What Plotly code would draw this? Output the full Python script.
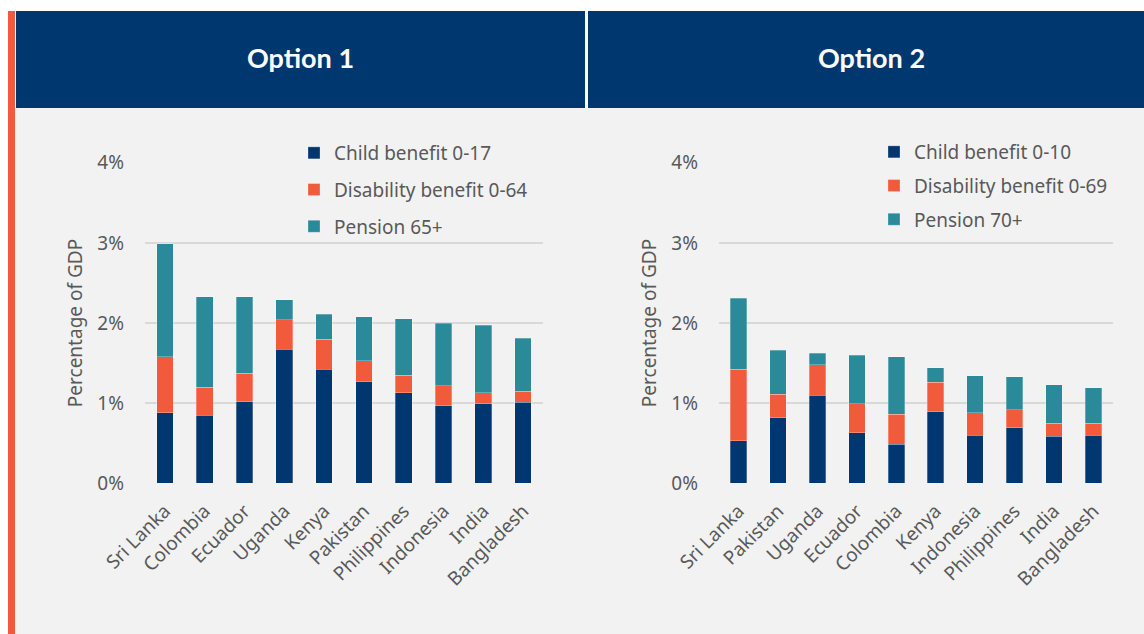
import plotly.graph_objects as go

# ---- data ----
countries1 = ["Sri Lanka", "Colombia", "Ecuador", "Uganda", "Kenya", "Pakistan",
              "Philippines", "Indonesia", "India", "Bangladesh"]
child1 = [0.88, 0.85, 1.02, 1.67, 1.42, 1.27, 1.13, 0.97, 0.99, 1.01]
dis1 = [0.70, 0.35, 0.35, 0.37, 0.38, 0.26, 0.22, 0.25, 0.14, 0.14]
pen1 = [1.41, 1.13, 0.96, 0.25, 0.31, 0.55, 0.70, 0.78, 0.84, 0.66]

countries2 = ["Sri Lanka", "Pakistan", "Uganda", "Ecuador", "Colombia", "Kenya",
              "Indonesia", "Philippines", "India", "Bangladesh"]
child2 = [0.53, 0.82, 1.10, 0.63, 0.49, 0.89, 0.60, 0.69, 0.59, 0.60]
dis2 = [0.89, 0.29, 0.38, 0.36, 0.37, 0.37, 0.28, 0.23, 0.16, 0.15]
pen2 = [0.89, 0.55, 0.14, 0.61, 0.72, 0.18, 0.46, 0.41, 0.48, 0.44]

names1 = ["Child benefit 0-17", "Disability benefit 0-64", "Pension 65+"]
names2 = ["Child benefit 0-10", "Disability benefit 0-69", "Pension 70+"]
titles = ["Option 1", "Option 2"]
y_ticks = [0, 1, 2, 3, 4]
y_ticktext = ["0%", "1%", "2%", "3%", "4%"]

# ---- style ----
W, H = 1144, 634
NAVY = "#003770"
ORANGE = "#F15B3B"
TEAL = "#2A8A9A"
HEADER = "#00376F"
BODY = "#F2F2F2"
TXT = "#595959"
GRID = "#D9D9D9"
FONT = "Noto Sans"
FS = 19
colors = [NAVY, ORANGE, TEAL]


def px(x):
    return x / W


def py(y):
    return 1 - y / H


fig = go.Figure()

for i, (name, vals) in enumerate(zip(names1, [child1, dis1, pen1])):
    fig.add_trace(go.Bar(
        x=countries1, y=vals, name=name, marker_color=colors[i],
        marker_line=dict(width=0.6, color="rgba(255,255,255,0.45)"),
        xaxis="x", yaxis="y", legend="legend", legendgroup="a%d" % i,
        hovertemplate="%{x}: %{y:.2f}%<extra>" + name + "</extra>"))

for i, (name, vals) in enumerate(zip(names2, [child2, dis2, pen2])):
    fig.add_trace(go.Bar(
        x=countries2, y=vals, name=name, marker_color=colors[i],
        marker_line=dict(width=0.6, color="rgba(255,255,255,0.45)"),
        xaxis="x2", yaxis="y2", legend="legend2", legendgroup="b%d" % i,
        hovertemplate="%{x}: %{y:.2f}%<extra>" + name + "</extra>"))

shapes = [
    # body background
    dict(type="rect", xref="paper", yref="paper", x0=px(15), x1=px(1144),
         y0=py(634), y1=py(108), fillcolor=BODY, line_width=0, layer="below"),
    # orange side bar
    dict(type="rect", xref="paper", yref="paper", x0=px(8), x1=px(15),
         y0=py(634), y1=py(11), fillcolor=ORANGE, line_width=0, layer="below"),
    # headers
    dict(type="rect", xref="paper", yref="paper", x0=px(16), x1=px(585),
         y0=py(108), y1=py(11), fillcolor=HEADER, line_width=0, layer="below"),
    dict(type="rect", xref="paper", yref="paper", x0=px(588), x1=px(1144),
         y0=py(108), y1=py(11), fillcolor=HEADER, line_width=0, layer="below"),
]

annotations = [
    dict(text="<b>%s</b>" % titles[0], xref="paper", yref="paper", x=px(300), y=py(57),
         xanchor="center", yanchor="middle", showarrow=False,
         font=dict(family="Lato", size=27, color="white")),
    dict(text="<b>%s</b>" % titles[1], xref="paper", yref="paper", x=px(871), y=py(57),
         xanchor="center", yanchor="middle", showarrow=False,
         font=dict(family="Lato", size=27, color="white")),
]

yax = dict(range=[0, 4], tickmode="array", tickvals=y_ticks, ticktext=y_ticktext,
           showgrid=True, gridcolor=GRID, gridwidth=1.5, zeroline=False, showline=False,
           ticks="", ticklabelstandoff=20, automargin=False,
           tickfont=dict(family=FONT, size=FS, color=TXT),
           title=dict(text="Percentage of GDP", standoff=9,
                      font=dict(family=FONT, size=FS, color=TXT)),
           domain=[py(483.3), py(162.7)], fixedrange=True)
xax = dict(tickangle=-45, showgrid=False, showline=False, zeroline=False,
           ticks="", automargin=False, ticklabelstandoff=12,
           tickfont=dict(family=FONT, size=FS, color=TXT), fixedrange=True)

leg = dict(orientation="v", traceorder="grouped", tracegroupgap=9,
           bgcolor="rgba(0,0,0,0)", borderwidth=0,
           font=dict(family=FONT, size=FS, color=TXT),
           xanchor="left", yanchor="top")

fig.update_layout(
    width=W, height=H,
    margin=dict(l=0, r=0, t=0, b=0, autoexpand=False),
    paper_bgcolor="white", plot_bgcolor="rgba(0,0,0,0)",
    barmode="stack", bargap=0.58,
    font=dict(family=FONT, color=TXT),
    xaxis=dict(xax, domain=[px(145), px(543)], anchor="y"),
    yaxis=dict(yax, anchor="x"),
    xaxis2=dict(xax, domain=[px(719), px(1113)], anchor="y2"),
    yaxis2=dict(yax, anchor="x2"),
    legend=dict(leg, x=px(294), y=py(134)),
    legend2=dict(leg, x=px(874), y=py(133), tracegroupgap=6),
    shapes=shapes,
    annotations=annotations,
    showlegend=True,
)

fig.write_html("out.html",
               config={"displayModeBar": False},
               post_script="document.body.style.margin='0';document.body.style.overflow='hidden';")
